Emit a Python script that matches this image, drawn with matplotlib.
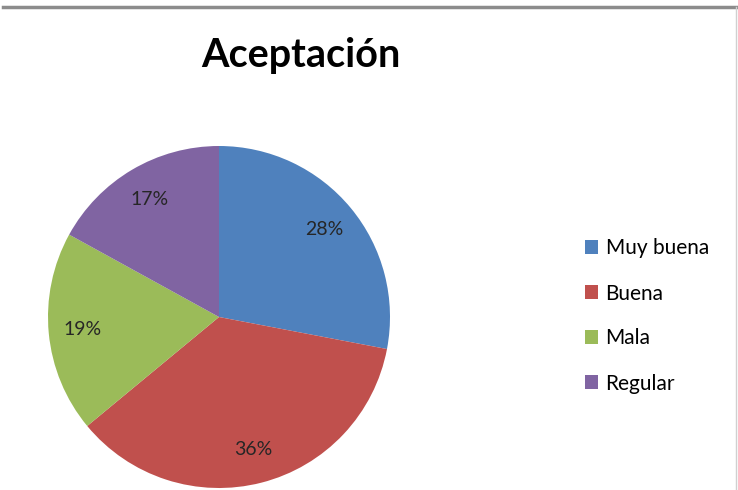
import matplotlib
matplotlib.use("Agg")
import matplotlib.pyplot as plt
from matplotlib.lines import Line2D

categorias = ["Muy buena", "Buena", "Mala", "Regular"]
porcentajes = [28, 36, 19, 17]
colores = ["#4F81BD", "#C0504D", "#9BBB59", "#8064A2"]

plt.rcParams['font.family'] = ['Lato', 'DejaVu Sans']

fig = plt.figure(figsize=(7.38, 4.90), dpi=100)

# marco gris del gráfico
fig.add_artist(Line2D([3/738, 1], [1 - 7/490, 1 - 7/490], color="#8c8c8c", lw=2.5))
fig.add_artist(Line2D([736/738, 736/738], [0, 1 - 7/490], color="#d0d0d0", lw=1))

ax = fig.add_axes([48/738, 2/490, 342/738, 342/490])
wedges, texts, autotexts = ax.pie(
    porcentajes, colors=colores, startangle=90, counterclock=False,
    autopct="%d%%", pctdistance=0.8, radius=1,
    textprops={"fontsize": 14, "color": "#262626"})
ax.set_xlim(-1, 1)
ax.set_ylim(-1, 1)
ax.set_aspect("equal")

fig.text(301/738, 1 - 56/490, "Aceptación", ha="center", va="center",
         fontsize=28.5, fontweight="bold", color="black")

fig.legend(wedges, categorias, loc="center left", bbox_to_anchor=(566/738, 1 - 316/490),
           frameon=False, fontsize=15, handlelength=0.65, handleheight=0.65,
           handletextpad=0.35, labelspacing=1.2)

fig.savefig("out.png", dpi=100)
